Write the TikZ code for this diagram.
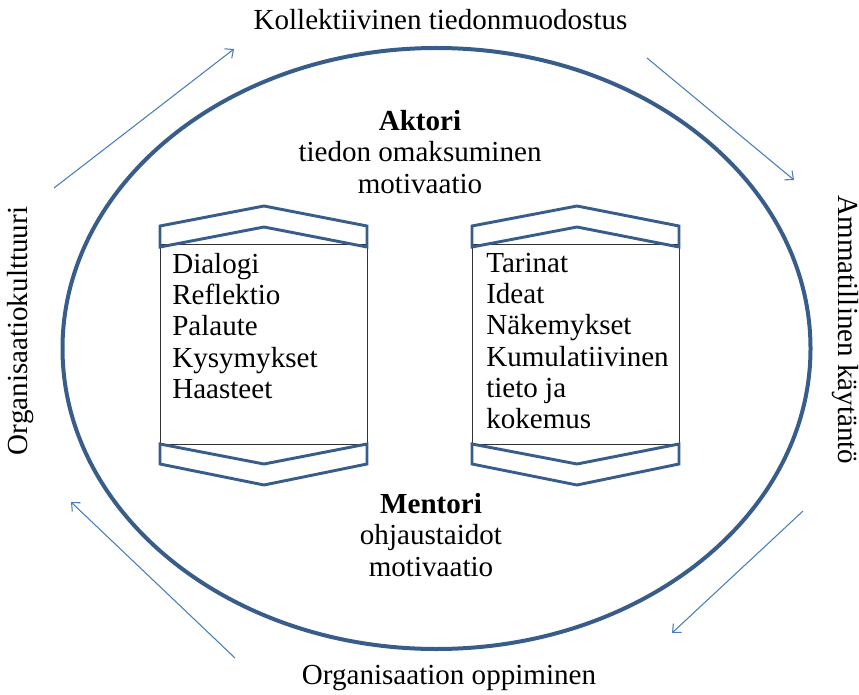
\documentclass[tikz,border=0pt]{standalone}
\usepackage{fontspec}
\setmainfont{Liberation Serif}
\usetikzlibrary{arrows.meta}

\definecolor{rim}{HTML}{385D8A}
\definecolor{flow}{HTML}{4A7EBB}

\begin{document}
\begin{tikzpicture}[
            x=0.75pt, y=-0.75pt,
            every node/.style={font=\fontsize{21.8}{23.4}\selectfont, inner sep=0pt},
            rim line/.style={draw=rim, line width=3pt},
            chevron/.style={draw=rim, line width=2.2pt, line join=miter},
            flow arrow/.style={draw=flow, line width=0.8pt, -{Straight Barb[length=5pt,width=9pt]}},
            list box/.style={draw=black!80, line width=0.7pt, minimum width=155.25pt, minimum height=150pt},
            ]
            \useasboundingbox (0,0) rectangle (859,695);

            % outer ring
            \draw[rim line] (436.5,348.5) ellipse [x radius=374, y radius=300.5];

            % labels round the ring
            \node (top) at (440.5,20) {Kollektiivinen tiedonmuodostus};
            \node[rotate=-90] (right) at (845,330) {Ammatillinen käytäntö};
            \node (bottom) at (449,678) {Organisaation oppiminen};
            \node[rotate=90] (left) at (21,331) {Organisaatiokulttuuri};

            % arrows round the ring
            \coordinate (tl a) at (54,188);
            \coordinate (tl b) at (234,49);
            \coordinate (tr a) at (647,58);
            \coordinate (tr b) at (794,180);
            \coordinate (br a) at (803,511);
            \coordinate (br b) at (672,633);
            \coordinate (bl a) at (235,658);
            \coordinate (bl b) at (71,502);
            \draw[flow arrow] (tl a) -- (tl b);
            \draw[flow arrow] (tr a) -- (tr b);
            \draw[flow arrow] (br a) -- (br b);
            \draw[flow arrow] (bl a) -- (bl b);

            % roles
            \node[align=center] (actor) at (420,152) {\textbf{Aktori}\\tiedon omaksuminen\\motivaatio};
            \node[align=center] (mentor) at (431,535) {\textbf{Mentori}\\ohjaustaidot\\motivaatio};

            % boxes
            \node[list box] (lbox) at (263.5,344) {};
            \node[list box] (rbox) at (575.5,344) {};
            \node[align=left, anchor=north west] (ltext) at (172,253) {Dialogi\\Reflektio\\Palaute\\Kysymykset\\Haasteet};
            \node[align=left, anchor=north west] (rtext) at (486,253) {Tarinat\\Ideat\\Näkemykset\\Kumulatiivinen\\tieto ja\\kokemus};

            % chevrons
            \draw[chevron] (160,226) -- (264,206) -- (367,226) -- (367,247) -- (264,227) -- (160,247) -- cycle;
            \draw[chevron] (160,444) -- (264,464) -- (367,444) -- (367,464) -- (264,485) -- (160,464) -- cycle;
            \draw[chevron] (472,226) -- (577,206) -- (679,226) -- (679,247) -- (577,227) -- (472,247) -- cycle;
            \draw[chevron] (472,444) -- (577,464) -- (679,444) -- (679,464) -- (577,485) -- (472,464) -- cycle;
        \end{tikzpicture}
\end{document}
